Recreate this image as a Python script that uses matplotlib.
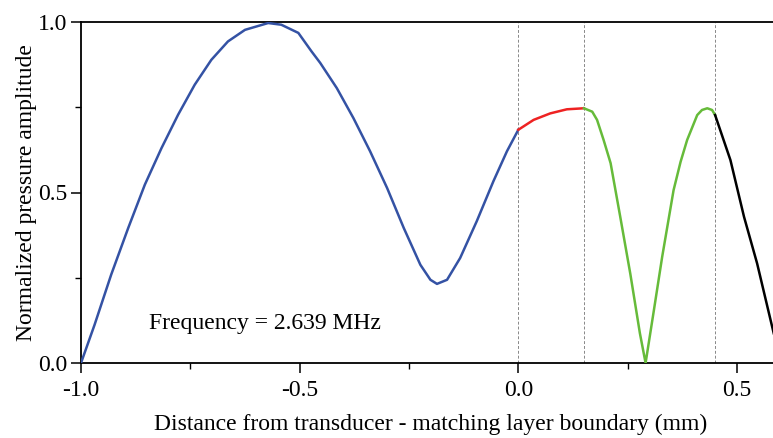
import matplotlib
matplotlib.use("Agg")
import matplotlib.pyplot as plt
from matplotlib.ticker import MultipleLocator

plt.rcParams["font.family"] = ["Liberation Serif", "DejaVu Serif"]

# Readings (x in mm, y normalized amplitude)
blue_x = [-1.0, -0.969, -0.931, -0.892, -0.854, -0.816, -0.778, -0.740, -0.702,
          -0.664, -0.625, -0.572, -0.542, -0.503, -0.473, -0.453, -0.415, -0.377,
          -0.339, -0.300, -0.262, -0.224, -0.201, -0.186, -0.163, -0.133, -0.095,
          -0.057, -0.026, 0.0]
blue_y = [0.0, 0.112, 0.259, 0.396, 0.523, 0.630, 0.728, 0.816, 0.889,
          0.943, 0.977, 0.997, 0.992, 0.968, 0.914, 0.880, 0.806, 0.718,
          0.621, 0.513, 0.396, 0.288, 0.244, 0.232, 0.244, 0.308, 0.416,
          0.533, 0.621, 0.684]
red_x = [0.0, 0.035, 0.073, 0.111, 0.15]
red_y = [0.684, 0.713, 0.732, 0.744, 0.747]
green_x = [0.15, 0.169, 0.180, 0.195, 0.211, 0.233, 0.256, 0.278, 0.291,
           0.310, 0.329, 0.355, 0.371, 0.386, 0.409, 0.420, 0.432, 0.443, 0.45]
green_y = [0.747, 0.737, 0.713, 0.654, 0.586, 0.429, 0.262, 0.087, 0.0,
           0.155, 0.312, 0.507, 0.590, 0.654, 0.727, 0.742, 0.747, 0.742, 0.727]
black_x = [0.45, 0.485, 0.516, 0.546, 0.584]
black_y = [0.727, 0.595, 0.429, 0.292, 0.087]
boundaries = [0.0, 0.15, 0.45]

fig = plt.figure(figsize=(7.73, 4.38), dpi=100)
ax = fig.add_axes([81 / 773, 1 - 363 / 438, 1 - 81 / 773 + 0.01, (363 - 22) / 438])

for b in boundaries:
    ax.axvline(b, color="#888888", lw=0.7, ls=(0, (3, 2)), zorder=1)

ax.plot(blue_x, blue_y, color="#3452a4", lw=1.8, zorder=3)
ax.plot(red_x, red_y, color="#ee2222", lw=1.8, zorder=3)
ax.plot(green_x, green_y, color="#66bb3a", lw=1.8, zorder=3)
ax.plot(black_x, black_y, color="black", lw=1.8, zorder=3)

ax.text(-0.844, 0.117, "Frequency = 2.639 MHz", fontsize=17, va="center", ha="left")

ax.set_xlim(-1.0, 0.6)
ax.set_ylim(0, 1.0)
ax.xaxis.set_major_locator(MultipleLocator(0.5))
ax.xaxis.set_minor_locator(MultipleLocator(0.25))
ax.yaxis.set_major_locator(MultipleLocator(0.5))
ax.yaxis.set_minor_locator(MultipleLocator(0.25))
ax.xaxis.set_major_formatter(plt.FuncFormatter(lambda v, p: f"{v:.1f}"))
ax.yaxis.set_major_formatter(plt.FuncFormatter(lambda v, p: f"{v:.1f}"))
ax.tick_params(which="major", direction="out", length=7, width=1.1, labelsize=17)
ax.tick_params(which="minor", direction="out", length=4, width=1.0)
ax.tick_params(axis="x", pad=5)
ax.tick_params(axis="y", pad=3)
ax.spines["right"].set_visible(False)
for s in ["left", "bottom", "top"]:
    ax.spines[s].set_linewidth(1.3)

ax.set_xlabel("Distance from transducer - matching layer boundary (mm)", fontsize=17)
ax.set_ylabel("Normalized pressure amplitude", fontsize=17)
ax.xaxis.set_label_coords(0.5, -51 / 341)
ax.yaxis.set_label_coords(-44 / 699.7, 0.5)

fig.savefig("out.png", dpi=100)
